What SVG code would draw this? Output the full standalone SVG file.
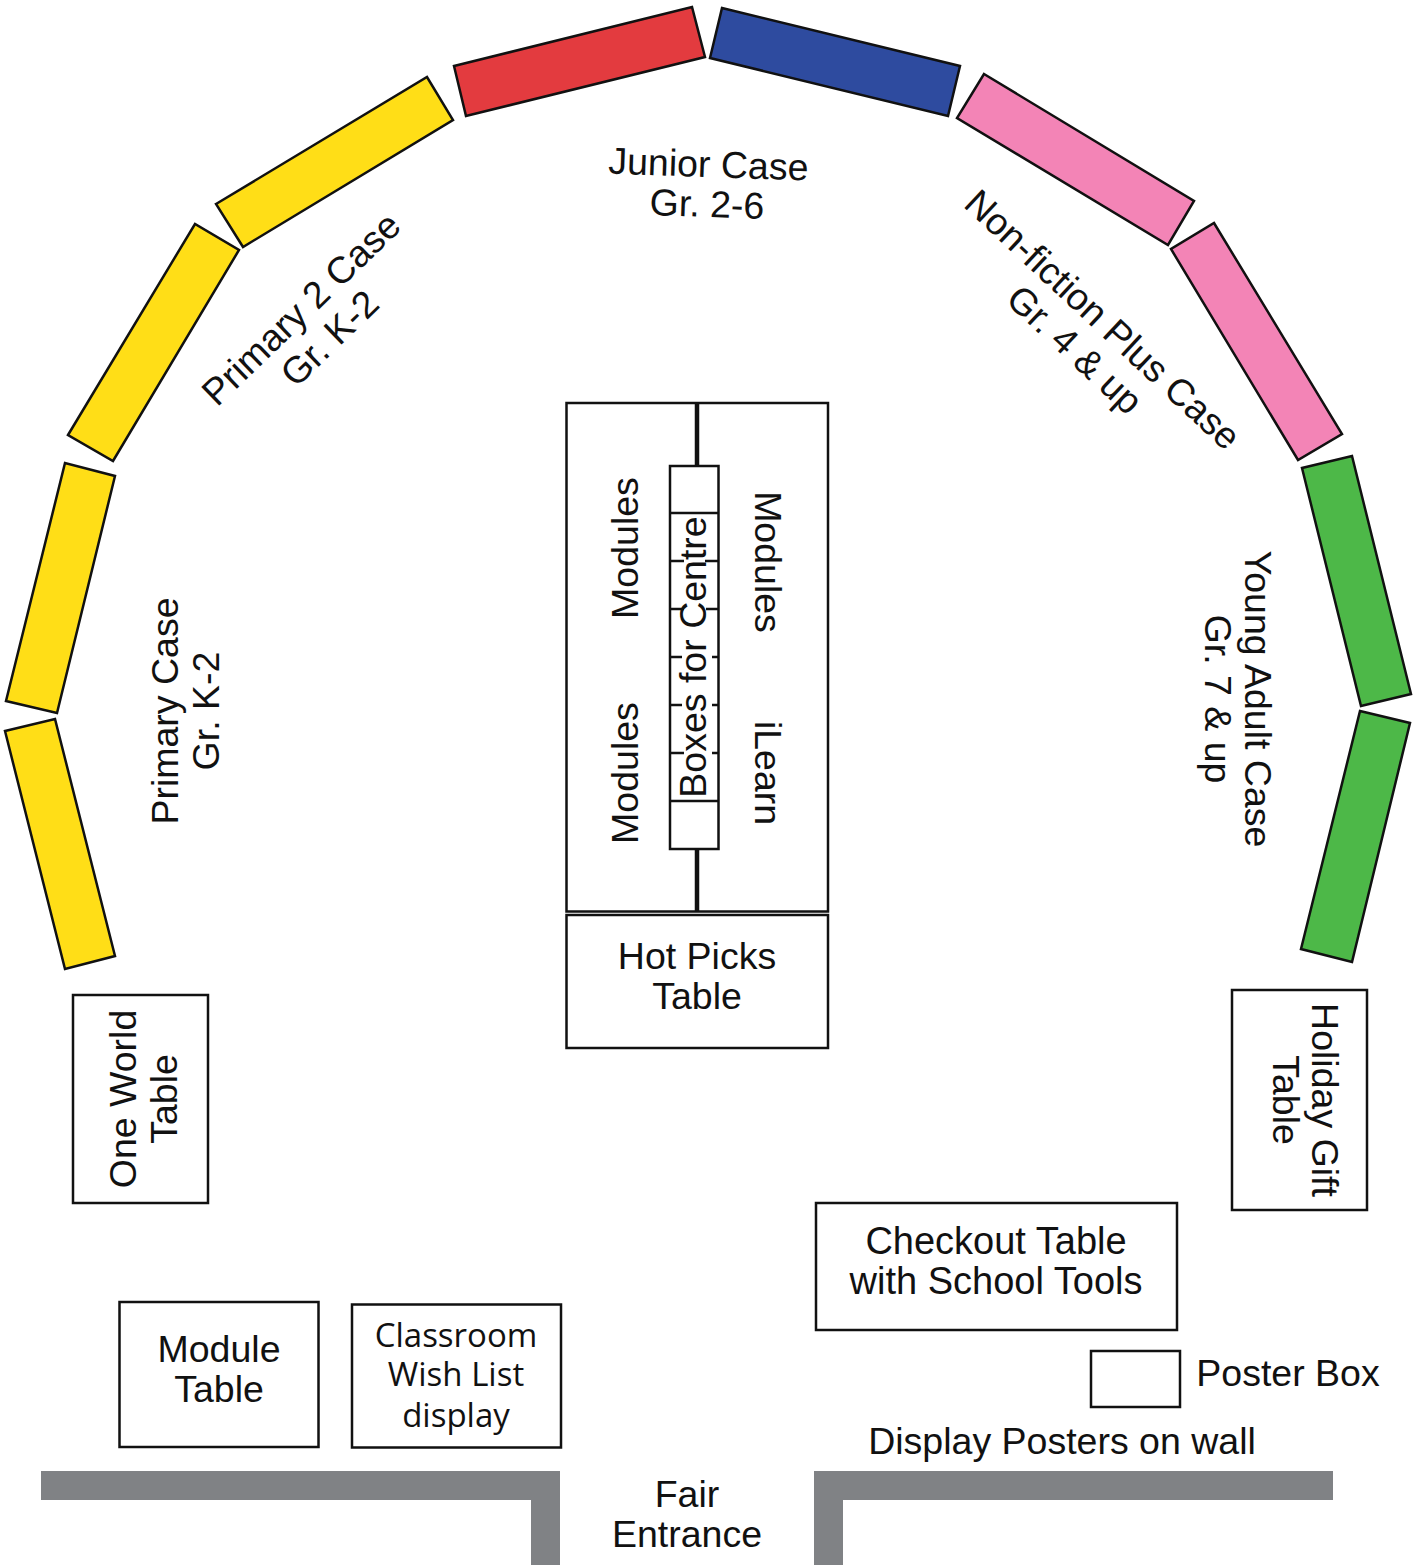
<svg xmlns="http://www.w3.org/2000/svg" width="1419" height="1565" viewBox="0 0 1419 1565">
<style>
.s{stroke:#111;stroke-width:2.5;stroke-linejoin:miter}
.b{fill:#fff;stroke:#111;stroke-width:2.5}
.y{fill:#ffde17}.r{fill:#e33b3f}.n{fill:#2e4b9f}.p{fill:#f384b6}.g{fill:#4db848}
.w{fill:#808285}
text{font-family:"Liberation Sans",Arial,sans-serif;font-size:37.5px;fill:#111;text-anchor:middle}
.o{font-family:"Open Sans","Noto Sans",sans-serif;font-size:33px}
.c{font-size:38px}
.l{stroke:#111;stroke-width:2.5;fill:none}
</style>
<rect width="1419" height="1565" fill="#fff"/>
<g id="primary-case">
<polygon class="s y" points="5,731 55,719 115,956 65,969"/>
<polygon class="s y" points="6,701 65,463 115,476 57,713"/>
<text transform="translate(178,711) rotate(-90)"><tspan x="0" y="0">Primary Case</tspan><tspan x="0" y="41">Gr. K-2</tspan></text>
</g>
<g id="primary-2-case">
<polygon class="s y" points="68,435 195,224 239,250 113,461"/>
<polygon class="s y" points="216,204 427,77 453,120 243,247"/>
<text transform="translate(310,318) rotate(-44)"><tspan x="0" y="0">Primary 2 Case</tspan><tspan x="0" y="41">Gr. K-2</tspan></text>
</g>
<g id="junior-case">
<polygon class="s r" points="454,66 692,7 705,57 466,116"/>
<polygon class="s n" points="722,8 960,66 948,116 710,58"/>
<text transform="translate(708,177) rotate(2)"><tspan x="0" y="0">Junior Case</tspan><tspan x="0" y="40">Gr. 2-6</tspan></text>
</g>
<g id="non-fiction-case">
<polygon class="s p" points="984,74 1194,201 1168,245 957,118"/>
<polygon class="s p" points="1214,223 1342,434 1298,460 1171,249"/>
<text transform="translate(1094,329) rotate(43)"><tspan x="0" y="0">Non-fiction Plus Case</tspan><tspan x="0" y="41">Gr. 4 &amp; up</tspan></text>
</g>
<g id="young-adult-case">
<polygon class="s g" points="1352,456 1411,694 1361,706 1302,468"/>
<polygon class="s g" points="1360,711 1410,723 1352,962 1301,949"/>
<text transform="translate(1245,699) rotate(90)"><tspan x="0" y="0">Young Adult Case</tspan><tspan x="0" y="40">Gr. 7 &amp; up</tspan></text>
</g>
<g id="modules-block">
<rect class="b" x="566.500" y="403" width="261.500" height="508.500"/>
<text transform="translate(638,548) rotate(-90)">Modules</text>
<text transform="translate(638,773) rotate(-90)">Modules</text>
<text transform="translate(755,562) rotate(90)">Modules</text>
<text transform="translate(755,773) rotate(90)">iLearn</text>
</g>
<g id="boxes-for-centre">
<rect class="b" x="670" y="466" width="48.500" height="383"/>
<path class="l" d="M670 513H718.500M670 801H718.500M670 561H684M705 561H718.500M670 609H684M706 609H718.500M670 657H682M712 657H718.500M670 705H682M712 705H718.500M670 753H684M712 753H718.500"/>
<text transform="translate(706,657) rotate(-90)">Boxes for Centre</text>
</g>
<g id="connectors">
<path d="M697 403V466M697 849V912" stroke="#111" stroke-width="4.500" fill="none"/>
</g>
<g id="hot-picks">
<rect class="b" x="566.500" y="915" width="261.500" height="133"/>
<text x="697" y="969">Hot Picks</text><text x="697" y="1009">Table</text>
</g>
<g id="one-world">
<rect class="b" x="73" y="995" width="135" height="208"/>
<text transform="translate(136,1099) rotate(-90)"><tspan x="0" y="0">One World</tspan><tspan x="0" y="41">Table</tspan></text>
</g>
<g id="holiday-gift">
<rect class="b" x="1232" y="990" width="135" height="220"/>
<text transform="translate(1312,1100) rotate(90)"><tspan x="0" y="0">Holiday Gift</tspan><tspan x="0" y="39">Table</tspan></text>
</g>
<g id="checkout">
<rect class="b" x="816" y="1203" width="361" height="127"/>
<text class="c" x="996" y="1254">Checkout Table</text><text class="c" x="996" y="1294">with School Tools</text>
</g>
<g id="poster-box">
<rect class="b" x="1091" y="1351" width="89" height="56"/>
<text x="1288" y="1386">Poster Box</text>
</g>
<g id="module-table">
<rect class="b" x="119.500" y="1302" width="199" height="145"/>
<text x="219" y="1362">Module</text><text x="219" y="1402">Table</text>
</g>
<g id="wish-list">
<rect class="b" x="352" y="1304.500" width="209" height="143"/>
<text class="o" x="456" y="1347">Classroom</text><text class="o" x="456" y="1386">Wish List</text><text class="o" x="456" y="1427">display</text>
</g>
<g id="walls">
<path class="w" d="M41 1471H560V1565H531V1500H41Z"/>
<path class="w" d="M1333 1471H814V1565H843V1500H1333Z"/>
</g>
<text x="1062" y="1454">Display Posters on wall</text>
<text x="687" y="1507">Fair</text><text x="687" y="1547">Entrance</text>
</svg>
